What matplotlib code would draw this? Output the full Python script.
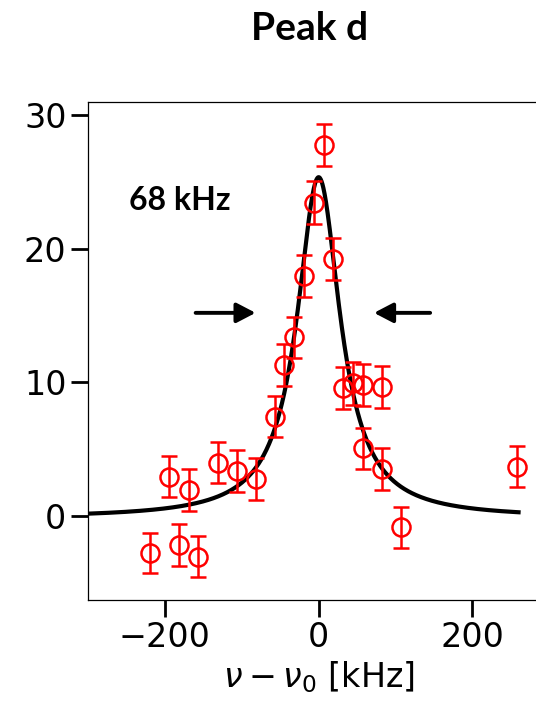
import numpy as np
import matplotlib
matplotlib.use("Agg")
import matplotlib.pyplot as plt

plt.rcParams["font.family"] = ["DejaVu Sans"]
plt.rcParams["mathtext.fontset"] = "dejavusans"

# Measured data (frequency offset in kHz, signal, error)
freq = [-219.5, -194.4, -181.8, -169.2, -156.6, -131.5, -105.9, -82.1,
        -56.9, -44.7, -31.7, -18.7, -5.7, 6.5, 19.0, 32.1, 44.2, 57.2,
        57.2, 82.0, 82.0, 107.1, 257.6]
signal = [-2.74, 2.94, -2.17, 1.94, -3.04, 3.99, 3.37, 2.77,
          7.43, 11.29, 13.36, 17.95, 23.43, 27.75, 19.22, 9.6, 9.92, 9.8,
          5.06, 9.67, 3.52, -0.85, 3.69]
err = [1.5, 1.55, 1.55, 1.55, 1.55, 1.55, 1.55, 1.55,
       1.55, 1.55, 1.55, 1.57, 1.6, 1.58, 1.58, 1.58, 1.58, 1.58,
       1.55, 1.58, 1.55, 1.55, 1.55]

# Lorentzian fit parameters
fit_amp = 25.5
fit_center = 0.0
fit_fwhm = 68.0
fit_offset = -0.15
fit_range = (-300, 260)

xticks = [-200, 0, 200]
yticks = [0, 10, 20, 30]

W, H = 536, 701
fig = plt.figure(figsize=(W / 100, H / 100), dpi=100)
ax = fig.add_axes([88 / W, 1 - 599.5 / H, (549.3 - 88) / W, (599.5 - 101.7) / H])

xf = np.linspace(fit_range[0], fit_range[1], 1000)
g = fit_fwhm / 2
yf = fit_amp * g**2 / ((xf - fit_center) ** 2 + g**2) + fit_offset
ax.plot(xf, yf, color="black", lw=3.0, zorder=2)

ax.errorbar(freq, signal, yerr=err, fmt="o", mfc="none", mec="red",
            ecolor="red", ms=13, mew=1.8, elinewidth=1.8, capsize=6,
            capthick=1.8, zorder=3)

ax.set_xlim(-300, 300)
ax.set_ylim(-6.25, 31)
ax.set_xticks(xticks)
ax.set_yticks(yticks)
ax.tick_params(axis="both", labelsize=24, length=12, width=2, direction="out")
for s in ax.spines.values():
    s.set_linewidth(0.9)
ax.set_xlabel(r"$\nu - \nu_0$ [kHz]", fontsize=24, labelpad=4)

arrow_y = 15.2
style = "-|>,head_length=1.15,head_width=0.6"
ax.annotate("", xy=(-82, arrow_y), xytext=(-160, arrow_y),
            arrowprops=dict(arrowstyle=style, lw=2.8, color="black",
                            shrinkA=0, shrinkB=0))
ax.annotate("", xy=(72, arrow_y), xytext=(145, arrow_y),
            arrowprops=dict(arrowstyle=style, lw=2.8, color="black",
                            shrinkA=0, shrinkB=0))

ax.text(-246.4, 23.6, "68 kHz", fontsize=23, fontweight="bold",
        family="Lato", ha="left", va="center")

fig.text(310 / W, 1 - 28 / H, "Peak d", fontsize=28, fontweight="bold",
         family="Lato", ha="center", va="center")

fig.savefig("out.png", dpi=100)
